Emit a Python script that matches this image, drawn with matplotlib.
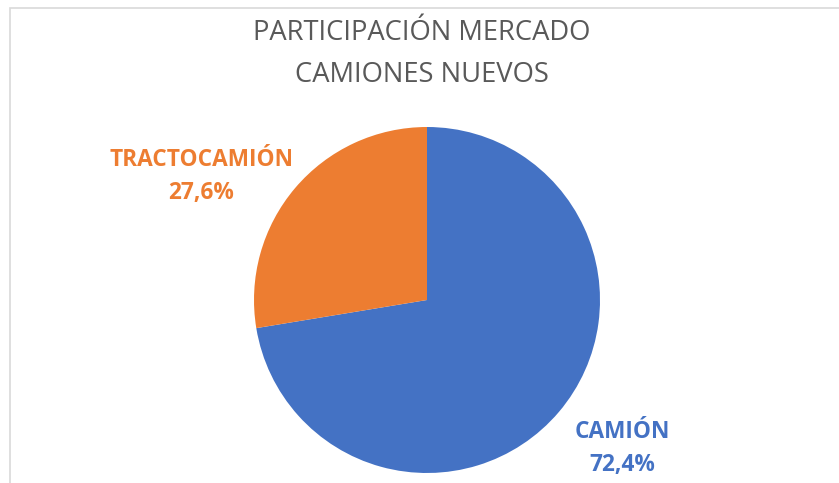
import matplotlib
matplotlib.use("Agg")
import matplotlib.pyplot as plt
from matplotlib.patches import Rectangle

# Data
labels = ["CAMIÓN", "TRACTOCAMIÓN"]
shares = [72.4, 27.6]
colors = ["#4472C4", "#ED7D31"]
title = "PARTICIPACIÓN MERCADO\nCAMIONES NUEVOS"

W, H = 839, 483
fig = plt.figure(figsize=(W / 100, H / 100), dpi=100)
ax = fig.add_axes([0, 0, 1, 1])

# pie laid out in pixel units (y measured from the bottom)
cx, cy, r = 427, H - 300, 173
ax.pie(shares, colors=colors, startangle=90, counterclock=False,
       center=(cx, cy), radius=r, wedgeprops={"linewidth": 0})
ax.set_xlim(0, W)
ax.set_ylim(0, H)
ax.set_aspect("equal")
ax.axis("off")

# chart border
ax.add_patch(Rectangle((10, -10), W, H - 8 + 10, fill=False,
                       edgecolor="#D9D9D9", linewidth=1.2, clip_on=False))

ax.text(422, H - 54, title, ha="center", va="center", fontsize=19.7,
        color="#595959", family="Open Sans", linespacing=1.62)

label_pos = [(622, H - 449), (201, H - 177)]
for lab, val, col, (x, y) in zip(labels, shares, colors, label_pos):
    txt = f"{lab}\n{val:.1f}%".replace(".", ",")
    ax.text(x, y, txt, ha="center", va="center", fontsize=16.3,
            color=col, family="Open Sans", fontweight="bold", linespacing=1.5)

fig.savefig("out.png", dpi=100)
plt.close(fig)
